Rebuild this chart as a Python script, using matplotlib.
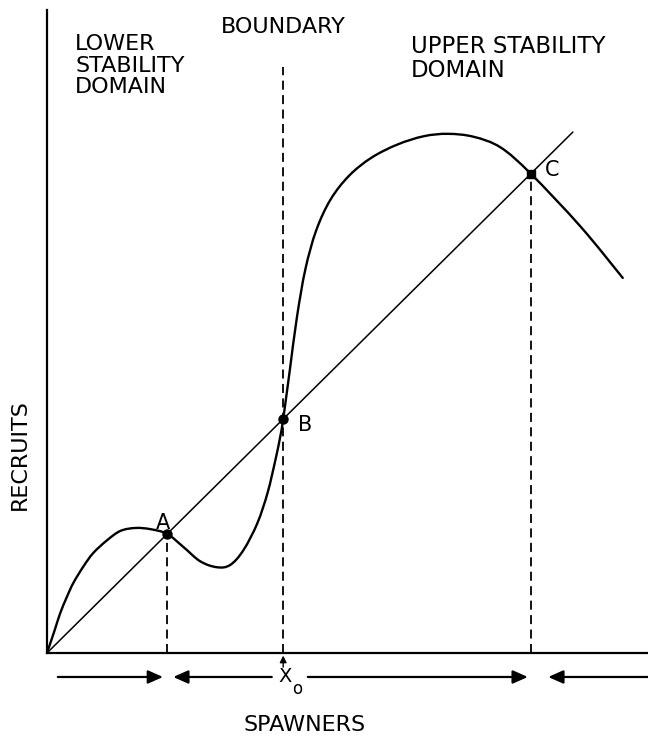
import matplotlib
matplotlib.use("Agg")
import matplotlib.pyplot as plt
from matplotlib.path import Path
from matplotlib.patches import PathPatch

plt.rcParams["font.family"] = ["DejaVu Sans"]

# Stock-recruitment curve with three equilibria (spawners vs recruits)
spawners = [0, 1.3, 2.2, 3.3, 4.4, 6.1, 7.7, 9.95, 12.2, 14.7, 17.2, 20.0,
            22.7, 25.5, 28.3, 30.5, 32.7, 35.0, 36.7, 38.0, 38.8, 39.3,
            40.4, 41.6, 43.0, 44.8, 47.2, 50.3, 54.0, 58.3, 62.7, 66.7,
            71.0, 75.5, 80.5, 88.8, 95.8]
recruits = [0, 3.9, 6.7, 9.4, 11.8, 14.6, 16.8, 18.9, 20.5, 21.0, 20.8, 20.0,
            17.8, 15.4, 14.4, 14.8, 17.3, 21.8, 26.9, 32.4, 36.3, 39.3,
            47.5, 56.5, 64.5, 71.0, 76.2, 80.2, 83.2, 85.4, 86.8, 87.2,
            86.7, 84.9, 80.5, 71.6, 63.0]

# Replacement line (recruits = spawners)
replacement_x = [0, 87.5]
replacement_y = [0, 87.5]

# Equilibrium points where the curve crosses the replacement line
eq_labels = ["A", "B", "C"]
eq_x = [20.0, 39.3, 80.5]
eq_y = [20.0, 39.3, 80.5]
boundary_top = 98.5


def smooth_path(xs, ys):
    """Cubic Bezier path through the given points (Catmull-Rom tangents)."""
    pts = list(zip(xs, ys))
    n = len(pts)
    verts = [pts[0]]
    codes = [Path.MOVETO]
    for i in range(n - 1):
        p0 = pts[max(i - 1, 0)]
        p1 = pts[i]
        p2 = pts[i + 1]
        p3 = pts[min(i + 2, n - 1)]
        c1 = (p1[0] + (p2[0] - p0[0]) / 6, p1[1] + (p2[1] - p0[1]) / 6)
        c2 = (p2[0] - (p3[0] - p1[0]) / 6, p2[1] - (p3[1] - p1[1]) / 6)
        verts += [c1, c2, p2]
        codes += [Path.CURVE4] * 3
    return Path(verts, codes)


fig = plt.figure(figsize=(6.48, 7.36), dpi=100)
ax = fig.add_axes([47 / 648, 83 / 736, 601 / 648, 643 / 736])
ax.set_xlim(0, 100)
ax.set_ylim(0, 108)
for side in ("top", "right"):
    ax.spines[side].set_visible(False)
for side in ("left", "bottom"):
    ax.spines[side].set_linewidth(1.6)
ax.set_xticks([])
ax.set_yticks([])

ax.plot(replacement_x, replacement_y, color="black", lw=1.1, solid_capstyle="round")
ax.add_patch(PathPatch(smooth_path(spawners, recruits), facecolor="none",
                       edgecolor="black", lw=1.7, capstyle="round", joinstyle="round"))

dash = (0, (5.0, 3.0))
ax.plot([eq_x[0], eq_x[0]], [0, eq_y[0]], color="black", lw=1.3, linestyle=dash)
ax.plot([eq_x[1], eq_x[1]], [0, boundary_top], color="black", lw=1.3, linestyle=dash)
ax.plot([eq_x[2], eq_x[2]], [0, eq_y[2]], color="black", lw=1.3, linestyle=dash)

ax.plot(eq_x[:2], eq_y[:2], "o", color="black", ms=6.5)
ax.plot(eq_x[2:], eq_y[2:], "s", color="black", ms=6)

label_offsets = [(-0.7, 1.8), (3.6, -1.0), (3.5, 0.7)]
for lab, x, y, (dx, dy) in zip(eq_labels, eq_x, eq_y, label_offsets):
    ax.text(x + dx, y + dy, lab, fontsize=15, ha="center", va="center")

# Region annotations
fs = 16
ax.text(4.66, 101.3, "LOWER", fontsize=fs, ha="left", va="baseline")
ax.text(4.66, 97.6, "STABILITY", fontsize=fs, ha="left", va="baseline")
ax.text(4.66, 94.1, "DOMAIN", fontsize=fs, ha="left", va="baseline")
ax.text(eq_x[1], 104.2, "BOUNDARY", fontsize=fs, ha="center", va="baseline")
ax.text(60.6, 100.8, "UPPER STABILITY", fontsize=fs + 0.5, ha="left", va="baseline")
ax.text(60.6, 96.8, "DOMAIN", fontsize=fs + 0.5, ha="left", va="baseline")

# Direction-of-change arrows below the spawner axis
trans = ax.get_xaxis_transform()
arrow_y = -0.0373
head = dict(arrowstyle="-|>,head_length=0.45,head_width=0.2", mutation_scale=20,
            color="black", lw=1.6, shrinkA=0, shrinkB=0)
arrow_spans = [(1.8, eq_x[0] - 0.7), (eq_x[1] - 1.9, eq_x[0] + 1.0),
               (eq_x[1] + 4.1, eq_x[2] - 0.5), (100.0, eq_x[2] + 2.9)]
for x0, x1 in arrow_spans:
    ax.annotate("", xy=(x1, arrow_y), xytext=(x0, arrow_y), xycoords=trans,
                textcoords=trans, arrowprops=head, annotation_clip=False)

ax.annotate("", xy=(eq_x[1], -0.004), xytext=(eq_x[1], -0.022), xycoords=trans,
            textcoords=trans, annotation_clip=False,
            arrowprops=dict(arrowstyle="-|>,head_length=0.4,head_width=0.2",
                            mutation_scale=10, color="black", lw=1.0,
                            shrinkA=0, shrinkB=0))
ax.text(eq_x[1] + 0.3, arrow_y, "X", transform=trans, fontsize=14,
        ha="center", va="center", clip_on=False)
ax.text(eq_x[1] + 2.3, arrow_y - 0.018, "o", transform=trans, fontsize=12,
        ha="center", va="center", clip_on=False)

fig.text(20 / 648, 1 - 455 / 736, "RECRUITS", fontsize=16, rotation=90,
         ha="center", va="center")
fig.text(305 / 648, 1 - 725 / 736, "SPAWNERS", fontsize=16,
         ha="center", va="center")

fig.savefig("out.png", dpi=100)
